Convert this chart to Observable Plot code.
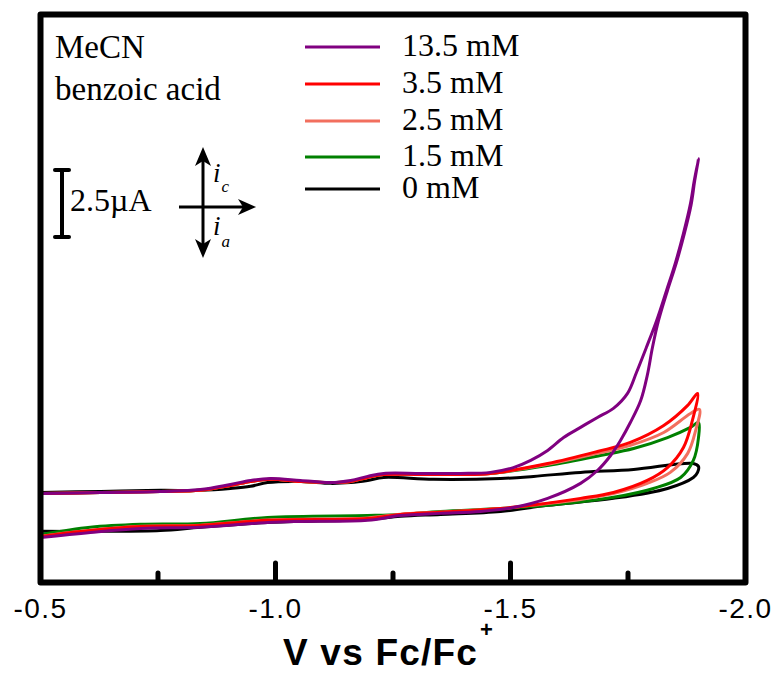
<!DOCTYPE html>
<html><head><meta charset="utf-8">
<script src="https://cdn.jsdelivr.net/npm/d3@7"></script>
<script src="https://cdn.jsdelivr.net/npm/@observablehq/plot@0.6"></script>
<style>body{margin:0;background:#fff}</style>
</head><body><div id="chart"></div>
<script>
// ---- data (V vs Fc/Fc+, current in µA, cathodic up) ----
const seriesLabels = ["13.5 mM", "3.5 mM", "2.5 mM", "1.5 mM", "0 mM"];
const seriesColors = ["#800080", "#ff0000", "#f26f5e", "#008000", "#000000"];

const v13_5 = [-0.500,-0.628,-0.755,-0.840,-0.904,-0.947,-0.989,-1.053,-1.117,-1.160,-1.196,-1.230,-1.309,-1.394,-1.457,-1.506,-1.543,-1.579,-1.613,-1.649,-1.685,-1.719,-1.749,-1.768,-1.789,-1.811,-1.832,-1.851,-1.868,-1.883,-1.891,-1.900,
  -1.892,-1.884,-1.870,-1.853,-1.834,-1.815,-1.802,-1.791,-1.777,-1.755,-1.734,-1.713,-1.685,-1.649,-1.579,-1.506,-1.436,-1.351,-1.266,-1.196,-1.053,-0.983,-0.840,-0.713,-0.606,-0.500];
const i13_5 = [0.63,0.67,0.71,0.78,0.97,1.12,1.19,1.12,1.04,1.12,1.27,1.38,1.38,1.38,1.42,1.60,1.87,2.24,2.72,3.10,3.47,3.81,4.37,5.15,6.08,7.09,8.21,9.25,10.34,11.46,12.31,13.13,
  12.31,11.38,10.34,9.25,8.21,7.09,6.08,5.04,4.10,3.28,2.61,2.05,1.49,1.01,0.45,0.11,-0.04,-0.11,-0.19,-0.37,-0.41,-0.45,-0.63,-0.67,-0.82,-1.01];

const v3_5 = [-0.500,-0.628,-0.755,-0.840,-0.904,-0.947,-0.989,-1.053,-1.117,-1.160,-1.196,-1.230,-1.309,-1.394,-1.457,-1.579,-1.685,-1.755,-1.826,-1.877,-1.898,
  -1.887,-1.868,-1.834,-1.791,-1.719,-1.649,-1.543,-1.479,-1.351,-1.266,-1.196,-0.983,-0.840,-0.713,-0.606,-0.500];
const i3_5 = [0.63,0.67,0.71,0.75,0.93,1.08,1.16,1.08,1.04,1.08,1.23,1.34,1.34,1.34,1.38,1.75,2.20,2.54,3.17,3.92,4.37,
  3.36,2.35,1.60,1.12,0.67,0.45,0.19,0.07,-0.07,-0.15,-0.30,-0.37,-0.56,-0.60,-0.75,-0.97];

const v2_5 = [-0.500,-0.628,-0.755,-0.840,-0.904,-0.947,-0.989,-1.053,-1.117,-1.160,-1.196,-1.230,-1.309,-1.394,-1.457,-1.579,-1.685,-1.755,-1.826,-1.883,-1.902,
  -1.894,-1.877,-1.840,-1.791,-1.719,-1.649,-1.543,-1.479,-1.351,-1.266,-1.196,-0.983,-0.840,-0.713,-0.606,-0.500];
const i2_5 = [0.63,0.67,0.71,0.75,0.93,1.08,1.16,1.08,1.04,1.08,1.23,1.34,1.34,1.34,1.38,1.72,2.13,2.43,2.91,3.62,3.77,
  2.99,2.13,1.42,1.01,0.63,0.41,0.19,0.07,-0.06,-0.14,-0.28,-0.36,-0.55,-0.59,-0.74,-0.96];

const v1_5 = [-0.500,-0.628,-0.755,-0.840,-0.904,-0.947,-0.989,-1.053,-1.117,-1.160,-1.196,-1.230,-1.309,-1.394,-1.457,-1.579,-1.691,-1.762,-1.834,-1.883,-1.900,
  -1.900,-1.889,-1.862,-1.804,-1.719,-1.579,-1.479,-1.351,-1.266,-1.196,-0.983,-0.840,-0.713,-0.606,-0.500];
const i1_5 = [0.63,0.67,0.71,0.75,0.93,1.08,1.16,1.08,1.04,1.08,1.23,1.34,1.34,1.34,1.38,1.68,2.05,2.31,2.72,3.10,3.28,
  2.72,1.87,1.23,0.82,0.49,0.19,0.07,-0.04,-0.15,-0.19,-0.26,-0.49,-0.52,-0.63,-0.90];

const v0 = [-0.500,-0.628,-0.755,-0.840,-0.904,-0.947,-0.983,-1.053,-1.117,-1.160,-1.196,-1.230,-1.336,-1.479,-1.549,-1.649,-1.762,-1.889,-1.900,
  -1.898,-1.889,-1.834,-1.719,-1.579,-1.479,-1.351,-1.266,-1.196,-0.983,-0.840,-0.755,-0.628,-0.500];
const i0 = [0.67,0.71,0.75,0.75,0.82,0.90,1.04,1.08,1.01,1.04,1.12,1.23,1.16,1.19,1.27,1.42,1.53,1.75,1.64,
  1.42,1.23,0.82,0.45,0.19,-0.04,-0.15,-0.22,-0.34,-0.45,-0.63,-0.75,-0.78,-0.78];

const seriesVoltages = [v13_5, v3_5, v2_5, v1_5, v0];
const seriesCurrents = [i13_5, i3_5, i2_5, i1_5, i0];

const xTickLabels = [-0.5, -1.0, -1.5, -2.0];
const xMajorTicks = [-1.0, -1.5];
const xMinorTicks = [-0.75, -1.25, -1.75];
const scaleBarCurrent = 2.5; // µA

// ---- build ----
const seriesRows = seriesLabels.map((lab, k) =>
  seriesVoltages[k].map((v, j) => ({series: lab, V: v, I: seriesCurrents[k][j]})));

const drawOrder = [4, 3, 2, 1, 0];
const sans = "'Liberation Sans', Arial, Helvetica, sans-serif";
const serif = "'Liberation Serif', 'Times New Roman', Times, serif";

const plot = Plot.plot({
  width: 776, height: 673,
  marginLeft: 40, marginRight: 31, marginTop: 14, marginBottom: 91,
  x: {domain: [-0.5, -2.0]},
  y: {domain: [-2.69, 18.51], axis: null},
  style: {background: "white", overflow: "visible"},
  marks: [
    ...drawOrder.map(k => Plot.line(seriesRows[k], {
      x: "V", y: "I", stroke: seriesColors[k], strokeWidth: 3, curve: "catmull-rom"
    })),
    Plot.frame({stroke: "black", strokeWidth: 6, strokeLinejoin: "round"}),
    Plot.axisX({ticks: xMajorTicks, tickSize: -19, tickFormat: () => "", strokeWidth: 5, strokeLinecap: "round", label: null}),
    Plot.axisX({ticks: xMinorTicks, tickSize: -9, tickFormat: () => "", strokeWidth: 5, strokeLinecap: "round", label: null}),
    Plot.axisX({ticks: xTickLabels, tickSize: 0, tickPadding: 16, tickFormat: d => d.toFixed(1),
      fontSize: 28, fontFamily: sans, fill: "black", label: null})
  ]
});

document.getElementById("chart").appendChild(plot);

const svg = d3.select(plot);
svg.selectAll("text").filter(function(){ return /^-\d/.test(this.textContent); })
  .style("letter-spacing", "1.5px");

const ys = plot.scale("y");
const g = svg.append("g").attr("text-anchor", "start").attr("fill", "black");

// solvent / acid labels
g.append("text").attr("x", 55).attr("y", 58).attr("font-family", serif).attr("font-size", 33).text("MeCN");
g.append("text").attr("x", 55).attr("y", 100).attr("font-family", serif).attr("font-size", 33).text("benzoic acid");

// legend
const legY = [47, 84, 121, 157, 189];
seriesLabels.forEach((lab, k) => {
  g.append("line").attr("x1", 305).attr("x2", 380).attr("y1", legY[k]).attr("y2", legY[k])
    .attr("stroke", seriesColors[k]).attr("stroke-width", 3);
  g.append("text").attr("x", 402).attr("y", legY[k] + 9).attr("font-family", serif)
    .attr("font-size", 32).text(lab);
});

// scale bar (2.5 µA)
const barLen = ys.apply(0) - ys.apply(scaleBarCurrent);
const barTop = 170, barX = 62;
g.append("line").attr("x1", barX).attr("x2", barX).attr("y1", barTop).attr("y2", barTop + barLen)
  .attr("stroke", "black").attr("stroke-width", 4);
[barTop, barTop + barLen].forEach(yy =>
  g.append("line").attr("x1", 55).attr("x2", 69).attr("y1", yy).attr("y2", yy)
    .attr("stroke", "black").attr("stroke-width", 4).attr("stroke-linecap", "round"));
g.append("text").attr("x", 70).attr("y", 211).attr("font-family", serif).attr("font-size", 32).text(scaleBarCurrent + "µA");

// current direction arrows
g.append("line").attr("x1", 203).attr("x2", 203).attr("y1", 158).attr("y2", 248).attr("stroke", "black").attr("stroke-width", 3);
g.append("line").attr("x1", 179).attr("x2", 246).attr("y1", 207).attr("y2", 207).attr("stroke", "black").attr("stroke-width", 3);
const heads = [
  [[203,147],[195,166],[203,161],[211,166]],
  [[203,258],[195,239],[203,244],[211,239]],
  [[256,207],[238,199],[243,207],[238,215]]
];
heads.forEach(p => g.append("polygon").attr("points", p.map(q => q.join(",")).join(" ")).attr("fill", "black"));
const ic = g.append("text").attr("x", 213).attr("y", 182).attr("font-family", serif).attr("font-style", "italic").attr("font-size", 27);
ic.append("tspan").text("i");
ic.append("tspan").attr("font-size", 17).attr("dx", 1).attr("dy", 10).text("c");
const ia = g.append("text").attr("x", 213).attr("y", 235).attr("font-family", serif).attr("font-style", "italic").attr("font-size", 27);
ia.append("tspan").text("i");
ia.append("tspan").attr("font-size", 17).attr("dx", 1).attr("dy", 12).text("a");

// x axis title
const t = g.append("text").attr("x", 283).attr("y", 665).attr("font-family", sans).attr("font-weight", "bold")
  .attr("font-size", 37).attr("letter-spacing", "1.2px");
t.append("tspan").text("V vs Fc/Fc");
t.append("tspan").attr("font-size", 22).attr("dy", -28).attr("dx", 2).text("+");
</script>
</body></html>
